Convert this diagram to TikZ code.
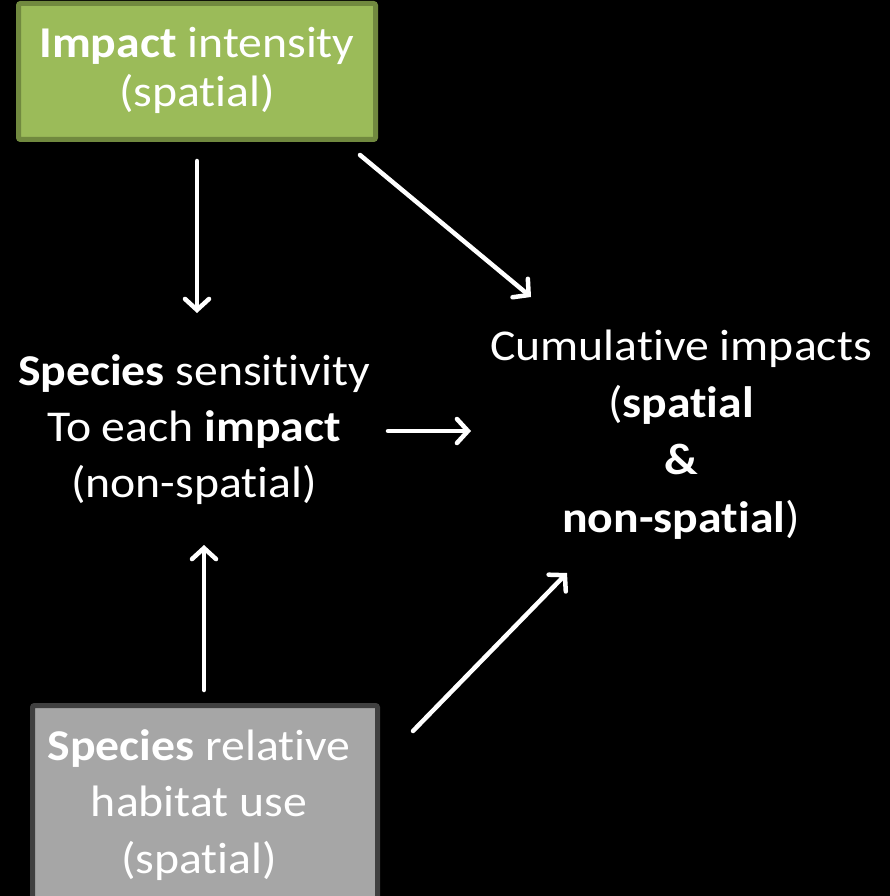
\documentclass[tikz,border=0pt]{standalone}
\usepackage{fontspec}
\setmainfont[FakeStretch=1.085, Ligatures=NoCommon]{Carlito}
\usetikzlibrary{arrows.meta}
\definecolor{boxgreen}{HTML}{9BBB59}
\definecolor{boxgreenline}{HTML}{71893F}
\definecolor{boxgray}{HTML}{A6A6A6}
\definecolor{boxgrayline}{HTML}{404040}
\tikzset{
  txt/.style={text=white, align=center, inner sep=0pt, anchor=base},
  arr/.style={draw=white, line width=4.5pt, line cap=round,
    -{Straight Barb[length=11pt, width=24pt, line cap=round]}},
}
\begin{document}
\begin{tikzpicture}[x=1pt,y=-1pt]
\fill[black] (0,0) rectangle (890,896);
\useasboundingbox (0,0) rectangle (890,896);
\clip (0,0) rectangle (890,896);
% boxes
\node[draw=boxgreenline, fill=boxgreen, line width=5pt, rounded corners=2pt,
  minimum width=357pt, minimum height=136pt, inner sep=0pt] (impbox) at (197,71.5) {};
\node[draw=boxgrayline, fill=boxgray, line width=5pt, rounded corners=2pt,
  minimum width=345pt, minimum height=240pt, inner sep=0pt] (habbox) at (205,825.5) {};
% texts (anchored at the baseline of their last line)
\node[txt, font=\fontsize{44}{49}\selectfont] (imp) at (197,106.5)
  {\textbf{Impact} intensity\\(spatial)};
\node[txt, font=\fontsize{44}{56}\selectfont] (sens) at (194,497)
  {\textbf{Species} sensitivity\\To each \textbf{impact}\\(non-spatial)};
\node[txt, font=\fontsize{44}{57.3}\selectfont] (cum) at (681,532)
  {Cumulative impacts\\(\textbf{spatial}\\\textbf{\&}\\\textbf{non-spatial})};
\node[txt, font=\fontsize{44}{56.5}\selectfont] (hab) at (199,873)
  {\textbf{Species} relative\\habitat use\\(spatial)};
% arrow end points
\coordinate (a1s) at (197,161); \coordinate (a1e) at (197,313);
\coordinate (a2s) at (360,155); \coordinate (a2e) at (531,297);
\coordinate (a3s) at (388,431); \coordinate (a3e) at (471,431);
\coordinate (a4s) at (204,690); \coordinate (a4e) at (204,545);
\coordinate (a5s) at (413,731); \coordinate (a5e) at (567,573);
\draw[arr] (a1s) -- (a1e);
\draw[arr] (a2s) -- (a2e);
\draw[arr] (a3s) -- (a3e);
\draw[arr] (a4s) -- (a4e);
\draw[arr] (a5s) -- (a5e);
\end{tikzpicture}
\end{document}
